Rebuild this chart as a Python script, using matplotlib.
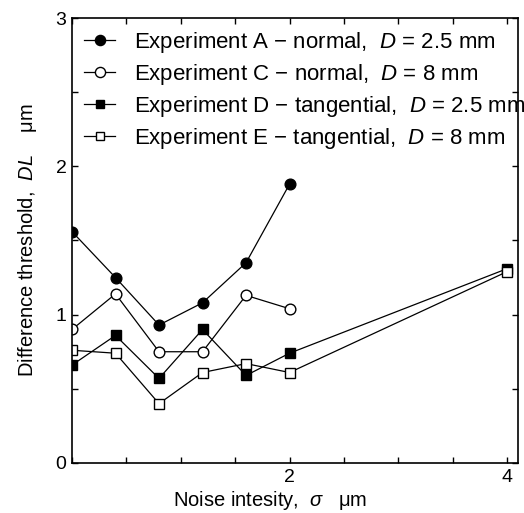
import numpy as np
import matplotlib
matplotlib.use("Agg")
import matplotlib.pyplot as plt
from matplotlib.ticker import MultipleLocator, FixedLocator

plt.rcParams['font.family'] = ['Liberation Sans', 'DejaVu Sans']
plt.rcParams['mathtext.fontset'] = 'custom'
plt.rcParams['mathtext.rm'] = 'Liberation Sans'
plt.rcParams['mathtext.it'] = 'Liberation Sans:italic'

# noise intensity sigma (um)
sigma = [0, 0.4, 0.8, 1.2, 1.6, 2.0, 4.0]

# difference threshold DL (um)
exp_a = [1.56, 1.25, 0.93, 1.08, 1.35, 1.88]
exp_c = [0.90, 1.14, 0.75, 0.75, 1.13, 1.04]
exp_d = [0.66, 0.86, 0.57, 0.90, 0.59, 0.74, 1.31]
exp_e = [0.76, 0.74, 0.40, 0.61, 0.67, 0.61, 1.29]

labels = [
    "Experiment A \u2212 normal,  $D$ = 2.5 mm",
    "Experiment C \u2212 normal,  $D$ = 8 mm",
    "Experiment D \u2212 tangential,  $D$ = 2.5 mm",
    "Experiment E \u2212 tangential,  $D$ = 8 mm",
]

fig = plt.figure(figsize=(5.24, 5.13), dpi=100)
ax = fig.add_axes([0.1374, 0.0975, 0.8511, 0.8674])

lw = 0.9
ax.plot(sigma[:6], exp_a, '-o', color='black', mfc='black', mec='black',
        ms=7.7, lw=lw, label=labels[0])
ax.plot(sigma[:6], exp_c, '-o', color='black', mfc='white', mec='black',
        ms=7.7, lw=lw, label=labels[1])
ax.plot(sigma, exp_d, '-s', color='black', mfc='black', mec='black',
        ms=6.7, lw=lw, label=labels[2])
ax.plot(sigma, exp_e, '-s', color='black', mfc='white', mec='black',
        ms=6.7, lw=lw, label=labels[3])

ax.set_xlim(0, 4.1)
ax.set_ylim(0, 3)
ax.xaxis.set_major_locator(FixedLocator([2, 4]))
ax.xaxis.set_minor_locator(MultipleLocator(0.5))
ax.yaxis.set_major_locator(MultipleLocator(1))
ax.yaxis.set_minor_locator(MultipleLocator(0.5))
ax.tick_params(which='both', direction='in', top=True, right=True,
               length=4, width=1, labelsize=14, pad=4)
ax.tick_params(axis='x', which='both', pad=4.5)

for s in ax.spines.values():
    s.set_linewidth(1.2)

ax.set_xlabel("Noise intesity,  $\\sigma$   \u03bcm", fontsize=14.5)
ax.xaxis.set_label_coords(0.444, -0.059)
ax.set_ylabel("Difference threshold,  $DL$    \u03bcm", fontsize=14.5, labelpad=12)

leg = ax.legend(loc='upper left', frameon=False, fontsize=16,
                handlelength=1.4, handletextpad=0.85, labelspacing=0.31,
                borderaxespad=0.15, markerscale=0.95)

fig.savefig("out.png", dpi=100)
